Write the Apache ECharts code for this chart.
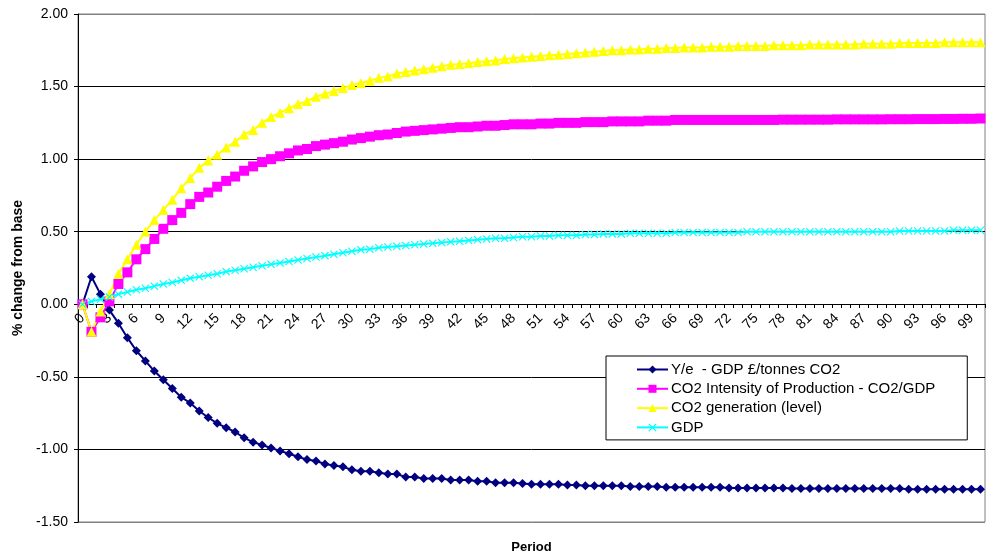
<!DOCTYPE html>
<html>
<head>
<meta charset="utf-8">
<script src="https://cdn.jsdelivr.net/npm/echarts@6/dist/echarts.min.js"></script>
<style>
html,body{margin:0;padding:0;background:#fff;}
#chart{width:986px;height:556px;}
</style>
</head>
<body>
<div id="chart"></div>
<script>
var periods = ['0','1','2','3','4','5','6','7','8','9','10','11','12','13','14','15','16','17','18','19','20','21','22','23','24','25','26','27','28','29','30','31','32','33','34','35','36','37','38','39','40','41','42','43','44','45','46','47','48','49','50','51','52','53','54','55','56','57','58','59','60','61','62','63','64','65','66','67','68','69','70','71','72','73','74','75','76','77','78','79','80','81','82','83','84','85','86','87','88','89','90','91','92','93','94','95','96','97','98','99','100'];

var seriesNames = ['Y/e  - GDP \u00a3/tonnes CO2', 'CO2 Intensity of Production - CO2/GDP', 'CO2 generation (level)', 'GDP'];

var gdpPerCO2 = [0, 0.19, 0.07, -0.04, -0.13, -0.23, -0.32, -0.39, -0.46, -0.52,
 -0.58, -0.64, -0.68, -0.735, -0.78, -0.82, -0.85, -0.88, -0.92, -0.95,
 -0.97, -0.99, -1.01, -1.03, -1.05, -1.07, -1.08, -1.10, -1.11, -1.12,
 -1.14, -1.15, -1.15, -1.16, -1.17, -1.17, -1.19, -1.19, -1.20, -1.20,
 -1.20, -1.21, -1.21, -1.21, -1.22, -1.22, -1.23, -1.23, -1.23, -1.235,
 -1.24, -1.24, -1.24, -1.24, -1.245, -1.245, -1.25, -1.25, -1.25, -1.25,
 -1.25, -1.255, -1.255, -1.255, -1.255, -1.26, -1.26, -1.26, -1.26, -1.26,
 -1.26, -1.26, -1.265, -1.265, -1.265, -1.265, -1.265, -1.265, -1.265, -1.27,
 -1.27, -1.27, -1.27, -1.27, -1.27, -1.27, -1.27, -1.27, -1.27, -1.27,
 -1.27, -1.27, -1.275, -1.275, -1.275, -1.275, -1.275, -1.275, -1.275, -1.275, -1.275];

var co2Intensity = [0, -0.19, -0.09, 0.02, 0.14, 0.22, 0.31, 0.38, 0.45, 0.52,
 0.58, 0.63, 0.69, 0.74, 0.77, 0.81, 0.85, 0.88, 0.92, 0.95,
 0.98, 1.00, 1.02, 1.04, 1.06, 1.07, 1.09, 1.10, 1.11, 1.12,
 1.135, 1.145, 1.155, 1.165, 1.17, 1.18, 1.19, 1.195, 1.20, 1.205,
 1.21, 1.215, 1.22, 1.22, 1.225, 1.23, 1.23, 1.235, 1.24, 1.24,
 1.24, 1.245, 1.245, 1.25, 1.25, 1.25, 1.255, 1.255, 1.255, 1.26,
 1.26, 1.26, 1.26, 1.265, 1.265, 1.265, 1.27, 1.27, 1.27, 1.27,
 1.27, 1.27, 1.27, 1.27, 1.27, 1.27, 1.27, 1.27, 1.272, 1.272,
 1.272, 1.272, 1.272, 1.272, 1.274, 1.274, 1.274, 1.274, 1.274, 1.274,
 1.275, 1.275, 1.275, 1.276, 1.276, 1.276, 1.277, 1.277, 1.278, 1.278, 1.28];

var co2Level = [0, -0.19, -0.05, 0.07, 0.21, 0.31, 0.41, 0.50, 0.58, 0.65,
 0.72, 0.80, 0.87, 0.94, 0.99, 1.03, 1.08, 1.12, 1.17, 1.20,
 1.25, 1.29, 1.32, 1.35, 1.38, 1.40, 1.43, 1.45, 1.47, 1.49,
 1.51, 1.525, 1.54, 1.56, 1.57, 1.59, 1.60, 1.61, 1.62, 1.63,
 1.64, 1.65, 1.655, 1.66, 1.67, 1.675, 1.68, 1.69, 1.695, 1.70,
 1.705, 1.71, 1.715, 1.72, 1.725, 1.73, 1.735, 1.74, 1.745, 1.75,
 1.75, 1.755, 1.755, 1.76, 1.76, 1.765, 1.765, 1.77, 1.77, 1.77,
 1.775, 1.775, 1.775, 1.78, 1.78, 1.78, 1.78, 1.785, 1.785, 1.785,
 1.785, 1.79, 1.79, 1.79, 1.79, 1.79, 1.79, 1.795, 1.795, 1.795,
 1.795, 1.80, 1.80, 1.80, 1.80, 1.80, 1.805, 1.805, 1.805, 1.805, 1.805];

var gdp = [0, 0.02, 0.035, 0.05, 0.07, 0.085, 0.10, 0.11, 0.125, 0.14,
 0.15, 0.165, 0.18, 0.19, 0.20, 0.21, 0.225, 0.235, 0.245, 0.255,
 0.265, 0.275, 0.285, 0.295, 0.305, 0.315, 0.325, 0.335, 0.345, 0.355,
 0.365, 0.375, 0.38, 0.39, 0.395, 0.40, 0.405, 0.41, 0.415, 0.42,
 0.425, 0.43, 0.435, 0.44, 0.445, 0.45, 0.455, 0.455, 0.46, 0.465,
 0.465, 0.47, 0.47, 0.475, 0.475, 0.475, 0.48, 0.48, 0.485, 0.485,
 0.485, 0.49, 0.49, 0.49, 0.49, 0.49, 0.495, 0.495, 0.495, 0.495,
 0.495, 0.495, 0.495, 0.495, 0.50, 0.50, 0.50, 0.50, 0.50, 0.50,
 0.50, 0.50, 0.50, 0.50, 0.50, 0.50, 0.50, 0.50, 0.50, 0.50,
 0.50, 0.505, 0.505, 0.505, 0.505, 0.505, 0.505, 0.51, 0.51, 0.51, 0.51];

var FONT = '"Liberation Sans", Arial, sans-serif';
var xSymbol = 'path://M0,1 L1,0 L5,4 L9,0 L10,1 L6,5 L10,9 L9,10 L5,6 L1,10 L0,9 L4,5 Z';

var chart = echarts.init(document.getElementById('chart'), null, {renderer: 'canvas'});

function mk(name, data, color, symbol, size) {
  return {
    name: name,
    type: 'line',
    data: data,
    symbol: symbol,
    symbolSize: size,
    showAllSymbol: true,
    animation: false,
    lineStyle: {color: color, width: 2},
    itemStyle: {color: color},
    emphasis: {disabled: true}
  };
}

// grid geometry: top 14, height 508; value 0 sits 2/3.5 of the way down
var GRID_TOP = 14, GRID_BOTTOM = 34, GRID_H = 556 - GRID_TOP - GRID_BOTTOM;
var zeroOffset = -Math.round(GRID_H * (1.5 / 3.5));

chart.setOption({
  backgroundColor: '#ffffff',
  animation: false,
  textStyle: {fontFamily: FONT},
  grid: {left: 78, right: 1, top: GRID_TOP, bottom: GRID_BOTTOM, show: true, borderColor: '#808080', borderWidth: 1, containLabel: false, outerBoundsMode: 'none'},
  legend: {
    orient: 'vertical',
    left: 606,
    top: 356,
    padding: [6, 32, 5, 30],
    itemWidth: 31,
    itemHeight: 10,
    itemGap: 4.3,
    backgroundColor: '#ffffff',
    borderColor: '#000000',
    borderWidth: 1,
    textStyle: {fontSize: 15, color: '#000', fontFamily: FONT, padding: [0, 0, 0, -2]},
    data: seriesNames
  },
  xAxis: {
    type: 'category',
    data: periods,
    boundaryGap: true,
    position: 'bottom',
    offset: zeroOffset,
    name: 'Period',
    nameLocation: 'middle',
    nameGap: 237,
    nameTextStyle: {fontSize: 13, fontWeight: 'bold', color: '#000', fontFamily: FONT},
    axisLine: {onZero: false, lineStyle: {color: '#000', width: 1}},
    axisTick: {show: true, interval: 0, alignWithLabel: false, length: 4, lineStyle: {color: '#000'}},
    axisLabel: {interval: 2, rotate: 45, margin: 12, fontSize: 14, color: '#000', fontFamily: FONT},
    splitLine: {show: false}
  },
  yAxis: {
    type: 'value',
    min: -1.5,
    max: 2,
    interval: 0.5,
    name: '% change from base',
    nameLocation: 'middle',
    nameRotate: 90,
    nameGap: 52,
    nameTextStyle: {fontSize: 14, fontWeight: 'bold', color: '#000', fontFamily: FONT},
    axisLine: {show: true, onZero: false, lineStyle: {color: '#000', width: 1}},
    axisTick: {show: true, length: 4, lineStyle: {color: '#000'}},
    axisLabel: {margin: 10, fontSize: 14, color: '#000', fontFamily: FONT, formatter: function (v) { return v.toFixed(2); }},
    splitLine: {show: true, lineStyle: {color: ['#808080', '#000', '#000', '#000', '#000', '#000', '#000', '#808080'], width: 1}}
  },
  series: [
    mk(seriesNames[0], gdpPerCO2, '#000080', 'diamond', 9),
    mk(seriesNames[1], co2Intensity, '#FF00FF', 'rect', 10),
    mk(seriesNames[2], co2Level, '#FFFF00', 'triangle', 10),
    mk(seriesNames[3], gdp, '#00FFFF', xSymbol, 8)
  ]
});
</script>
</body>
</html>
